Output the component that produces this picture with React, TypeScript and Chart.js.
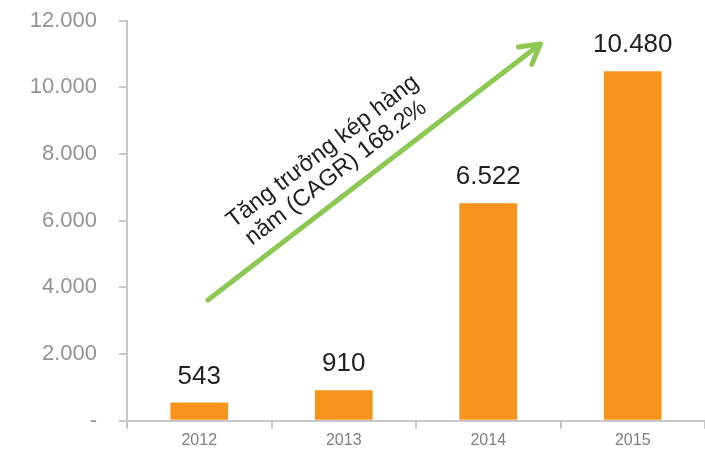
import React, { useEffect, useRef } from "react";
import { Chart, registerables } from "chart.js";

Chart.register(...registerables);

const categories = ["2012", "2013", "2014", "2015"];
const values = [543, 910, 6522, 10480];
const yMax = 12000;
const yStep = 2000;
const annotationLines = ["Tăng trưởng kép hàng", "năm (CAGR) 168.2%"];
// arrow endpoints in data space (category index, value)
const arrowFrom = [0.06, 3620];
const arrowTo = [2.36, 11300];

const fmt = (v: number) => {
  if (v === 0) return "-";
  return Math.round(v)
    .toString()
    .replace(/\B(?=(\d{3})+(?!\d))/g, ".");
};

const FONT = "'Liberation Sans', Arial, Helvetica, sans-serif";

const overlayPlugin = {
  id: "overlay",
  afterDatasetsDraw(chart: any) {
    const ctx = chart.ctx;
    const meta = chart.getDatasetMeta(0);
    ctx.save();
    ctx.fillStyle = "#231f20";
    ctx.font = `26px ${FONT}`;
    ctx.textAlign = "center";
    ctx.textBaseline = "alphabetic";
    meta.data.forEach((bar: any, i: number) => {
      ctx.fillText(fmt(values[i]), bar.x, bar.y - 19);
    });
    ctx.restore();

    const xs = chart.scales.x;
    const ys = chart.scales.y;
    const x1 = xs.getPixelForValue(arrowFrom[0]);
    const y1 = ys.getPixelForValue(arrowFrom[1]);
    const x2 = xs.getPixelForValue(arrowTo[0]);
    const y2 = ys.getPixelForValue(arrowTo[1]);
    const ang = Math.atan2(y2 - y1, x2 - x1);
    ctx.save();
    ctx.strokeStyle = "#8dc852";
    ctx.lineWidth = 5;
    ctx.lineCap = "round";
    ctx.lineJoin = "round";
    ctx.beginPath();
    ctx.moveTo(x1, y1);
    ctx.lineTo(x2, y2);
    ctx.stroke();
    const hl = 22;
    const ha = Math.PI / 6;
    ctx.beginPath();
    ctx.moveTo(x2 - hl * Math.cos(ang - ha), y2 - hl * Math.sin(ang - ha));
    ctx.lineTo(x2, y2);
    ctx.lineTo(x2 - hl * Math.cos(ang + ha), y2 - hl * Math.sin(ang + ha));
    ctx.stroke();
    ctx.restore();

    ctx.save();
    ctx.translate(x1, y1);
    ctx.rotate(ang);
    ctx.fillStyle = "#1e1e1e";
    ctx.font = `23.5px ${FONT}`;
    ctx.textAlign = "left";
    ctx.textBaseline = "alphabetic";
    ctx.fillText(annotationLines[0], 64, -41);
    ctx.fillText(annotationLines[1], 68, -16);
    ctx.restore();
  },
};

export default function App() {
  const ref = useRef<HTMLCanvasElement>(null);
  useEffect(() => {
    document.body.style.margin = "0";
    const chart = new Chart(ref.current!, {
      type: "bar",
      data: {
        labels: categories,
        datasets: [
          {
            data: values,
            backgroundColor: "#f7941d",
            borderWidth: 0,
            barPercentage: 0.4,
            categoryPercentage: 1,
          },
        ],
      },
      options: {
        animation: false,
        responsive: false,
        maintainAspectRatio: false,
        layout: { padding: { top: 20.7, right: 0, left: 0, bottom: 0 } },
        plugins: { legend: { display: false }, tooltip: { enabled: false } },
        scales: {
          x: {
            offset: true,
            grid: {
              offset: true,
              drawOnChartArea: false,
              drawTicks: true,
              tickLength: 8,
              color: "#c8c8c8",
              lineWidth: 2,
            },
            border: { color: "#c8c8c8", width: 2 },
            ticks: {
              color: "#7f7f7f",
              font: { family: FONT, size: 16 },
              padding: 2,
              maxRotation: 0,
            },
            afterFit: (s: any) => {
              s.height = 29.3;
              s.paddingLeft = 0;
              s.paddingRight = 0;
            },
          },
          y: {
            min: 0,
            max: yMax,
            grid: {
              drawOnChartArea: false,
              drawTicks: true,
              tickLength: 8,
              color: "#c8c8c8",
              lineWidth: 2,
            },
            border: { color: "#c8c8c8", width: 2 },
            ticks: {
              stepSize: yStep,
              color: "#939393",
              font: { family: FONT, size: 22 },
              padding: 22,
              callback: (v: any) => fmt(Number(v)),
            },
            afterFit: (s: any) => {
              s.width = 127;
              s.paddingTop = 0;
              s.paddingBottom = 0;
            },
          },
        },
      },
      plugins: [overlayPlugin],
    });
    return () => chart.destroy();
  }, []);
  return <canvas ref={ref} width={705} height={450} style={{ display: "block" }} />;
}
